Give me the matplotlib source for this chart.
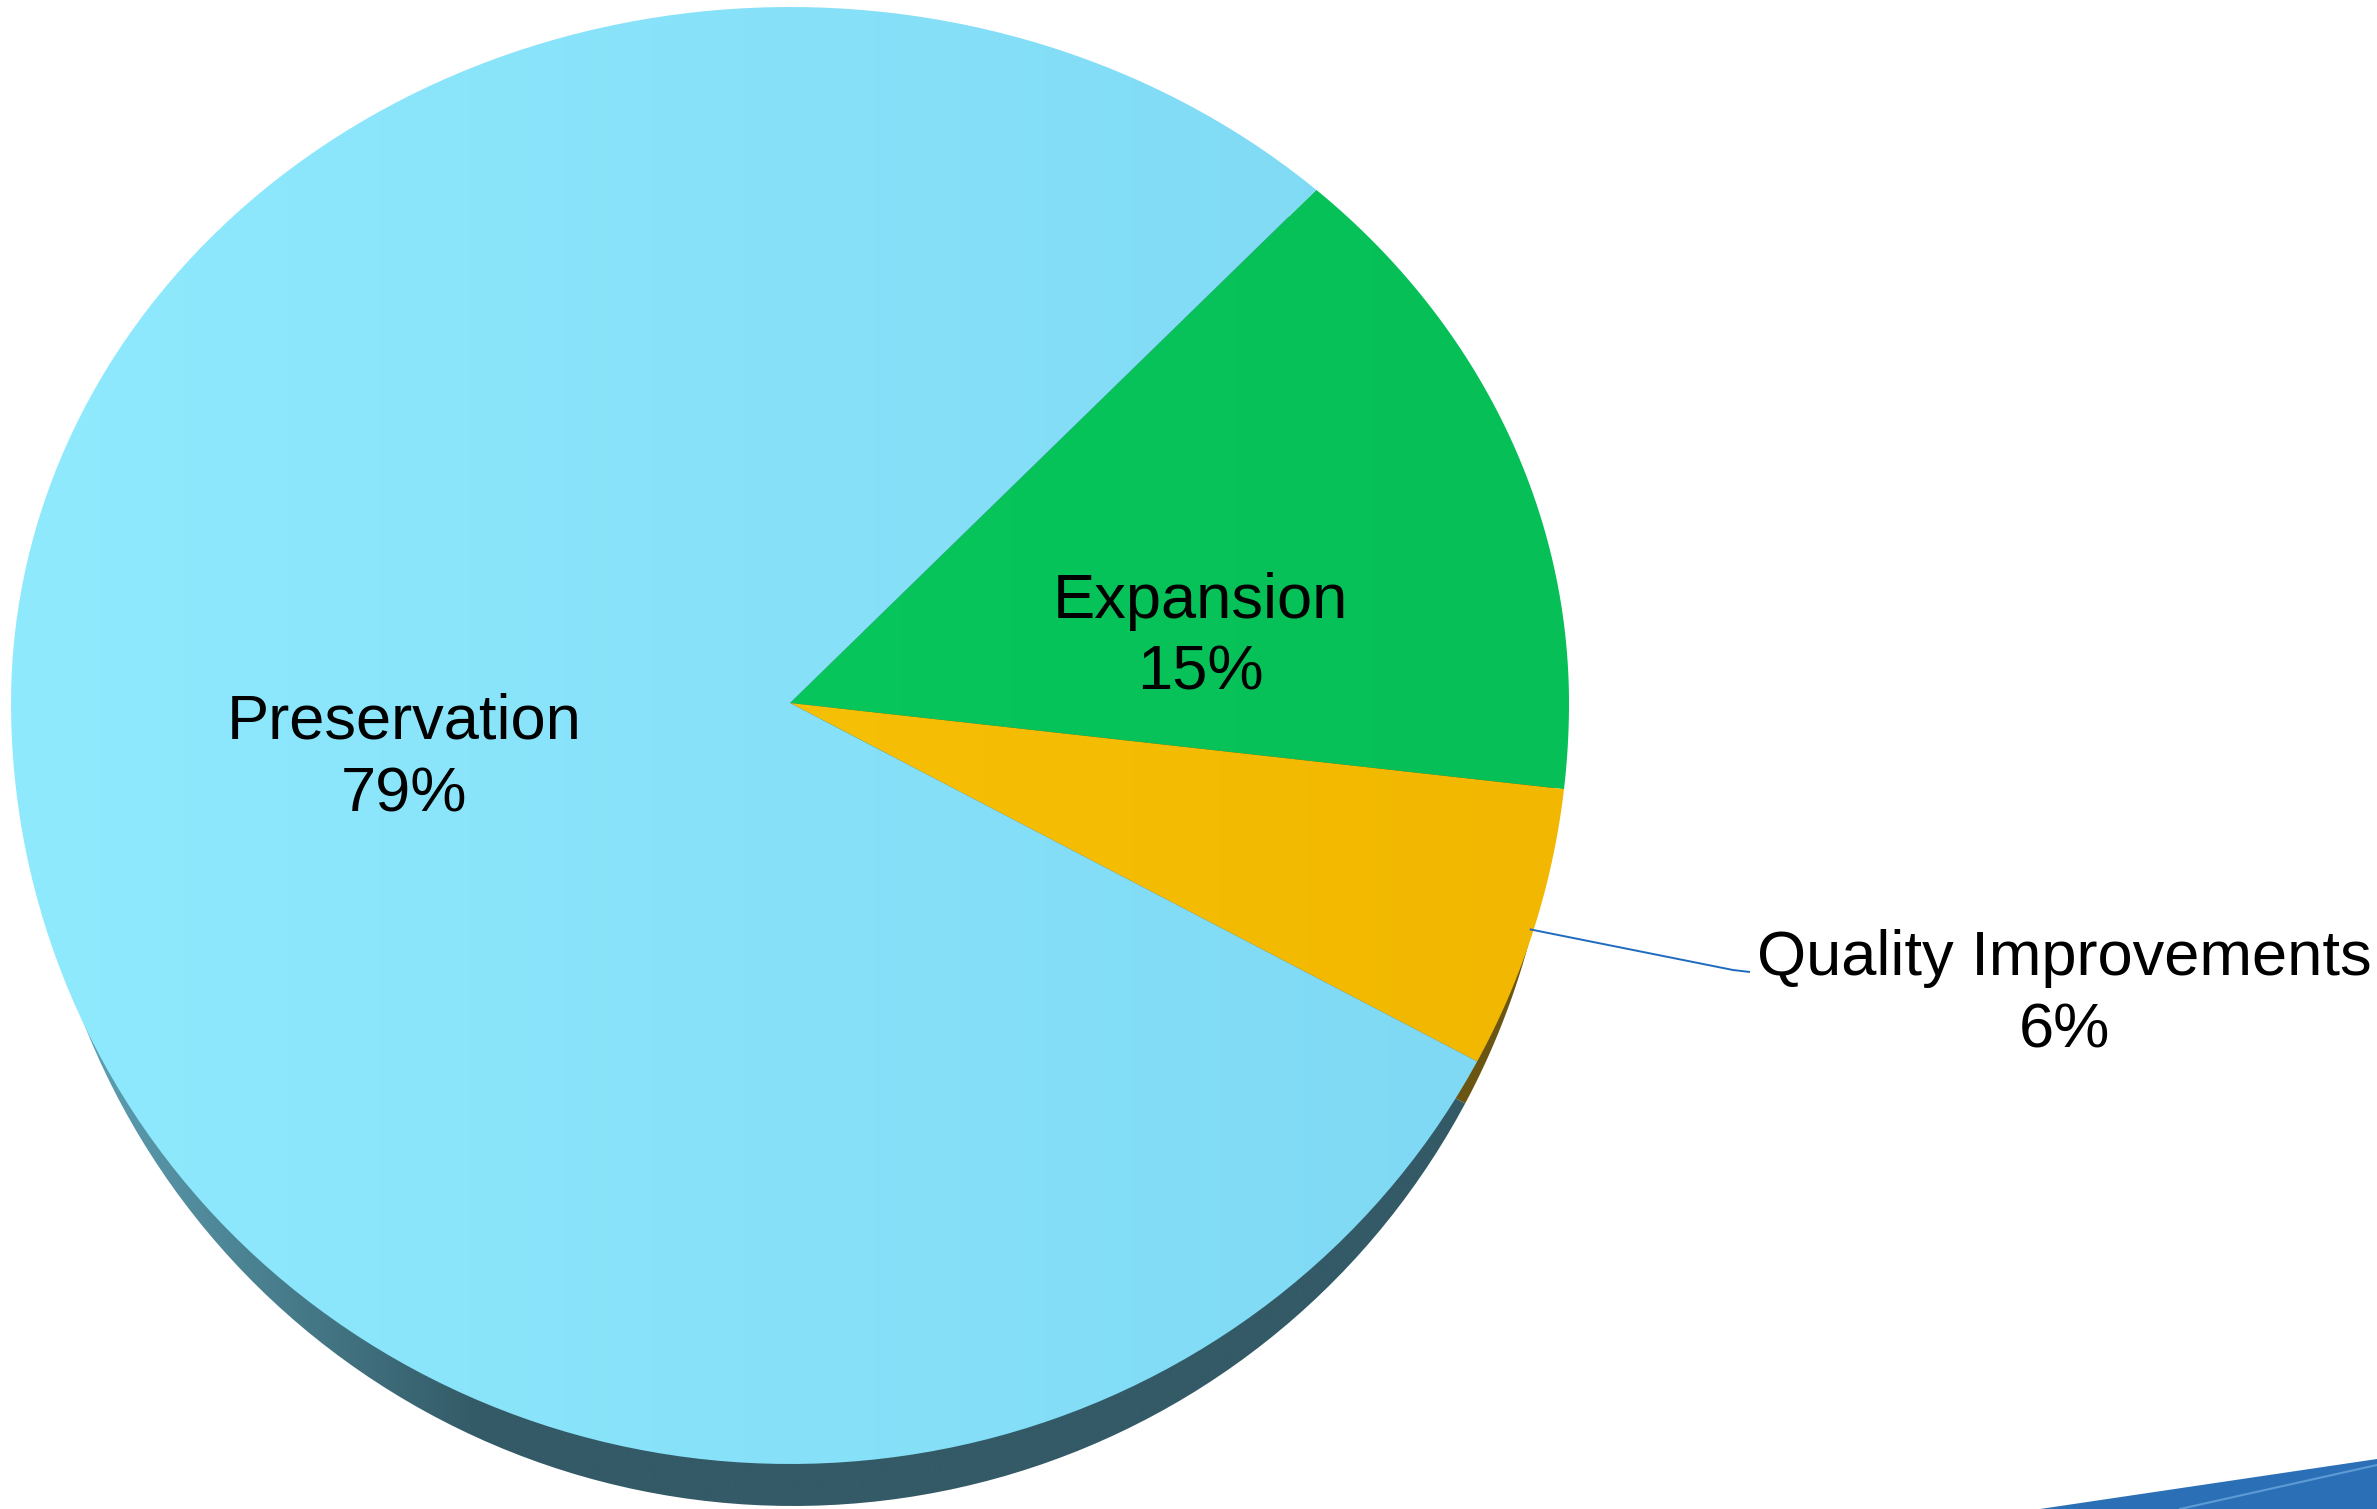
import numpy as np
import matplotlib
matplotlib.use("Agg")
import matplotlib.pyplot as plt
from matplotlib.patches import Polygon
from matplotlib.colors import to_rgb

# pie data (clockwise from the top-right edge)
labels = ["Expansion", "Quality Improvements", "Preservation"]
shares = [15, 6, 79]
face_left = ["#07c65b", "#f6c006", "#8feafe"]
face_right = ["#06bf57", "#f2b700", "#7fd9f4"]
shade_cols = ["#05542a", "#6b5512", "#335a66"]

W, H = 2377, 1509
cx, cy = 790, 703
rx, ry_top, ry_bot = 779, 696, 761
scx, scy, srx = 793, 745, 762
start = 47.5

plt.rcParams['font.family'] = ['Liberation Sans', 'DejaVu Sans']

fig = plt.figure(figsize=(W / 100, H / 100), dpi=100)
ax = fig.add_axes([0, 0, 1, 1])
ax.axis("off")


def rim(t, x0, y0, a, b_top, b_bot):
    t = np.radians(t)
    b = np.where(np.sin(t) > 0, b_top, b_bot)
    return x0 + a * np.cos(t), y0 - b * np.sin(t)


def wedge_xy(a0, a1, x0, y0, a, b_top, b_bot):
    t = np.linspace(a0, a1, 200)
    xs, ys = rim(t, x0, y0, a, b_top, b_bot)
    return np.column_stack([np.r_[x0, xs], np.r_[y0, ys]])


def gradient_fill(xy, c0, c1, z, x_lo=None, x_hi=None):
    patch = Polygon(xy, closed=True, facecolor="none", edgecolor="none")
    ax.add_patch(patch)
    xs, ys = xy[:, 0], xy[:, 1]
    left, right = xs.min(), xs.max()
    lo = left if x_lo is None else x_lo
    hi = right if x_hi is None else x_hi
    cols = np.linspace(left, right, 400)
    ramp = np.clip((cols - lo) / (hi - lo), 0, 1)[:, None]
    rgb = (1 - ramp) * np.array(to_rgb(c0)) + ramp * np.array(to_rgb(c1))
    im = ax.imshow(rgb[None, :, :], extent=(left, right, ys.max(), ys.min()),
                   aspect="auto", interpolation="bilinear", zorder=z)
    im.set_clip_path(patch)


bounds = start - 3.6 * np.r_[0, np.cumsum(shares)]

# drop shadow under the pie, one piece per slice
for i in range(len(shares)):
    xy = wedge_xy(bounds[i], bounds[i + 1], scx, scy, srx, ry_top, ry_bot)
    if labels[i] == "Preservation":
        gradient_fill(xy, "#5fa3b6", shade_cols[i], 1, x_lo=60, x_hi=480)
    else:
        ax.add_patch(Polygon(xy, closed=True, facecolor=shade_cols[i],
                             edgecolor="none", zorder=1))

# pie slices
for i in range(len(shares)):
    xy = wedge_xy(bounds[i], bounds[i + 1], cx, cy, rx, ry_top, ry_bot)
    gradient_fill(xy, face_left[i], face_right[i], 2)

# slice labels, anchored on the baseline of the percentage line
fs = 45.5
ls = 1.29
ax.text(1200, 690, "Expansion\n15%", ha="center", va="baseline",
        fontsize=fs, linespacing=ls, color="black", zorder=5)
ax.text(404, 811, "Preservation\n79%", ha="center", va="baseline",
        fontsize=fs, linespacing=ls, color="black", zorder=5)
ax.text(2064, 1047, "Quality Improvements\n6%", ha="center", va="baseline",
        fontsize=fs, linespacing=ls, color="black", zorder=5)

# leader line for the small slice
mid = (bounds[1] + bounds[2]) / 2
lx, ly = rim(mid, cx, cy, rx, ry_top, ry_bot)
ax.plot([lx - 4, 1733, 1750], [ly, 970, 972], color="#1f6bbf", lw=1.4,
        zorder=4, solid_capstyle="butt")

# slide background swoosh in the corner
ax.fill([2040, W, W], [H, 1459, H], color="#2b70b6", lw=0, zorder=0)
ax.plot([2180, W], [H, 1465], color="#5d9ad6", lw=1.5, zorder=0)

ax.set_xlim(0, W)
ax.set_ylim(H, 0)
fig.savefig("out.png", dpi=100, facecolor="white")
